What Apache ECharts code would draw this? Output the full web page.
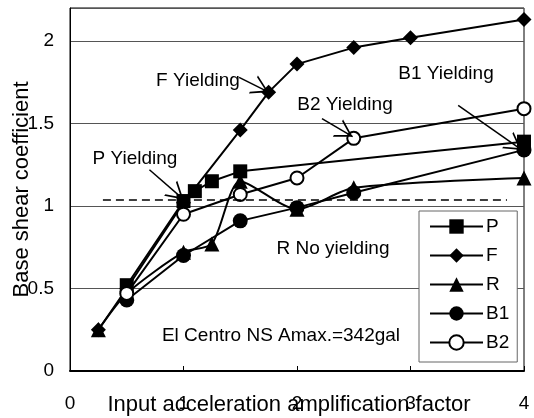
<!DOCTYPE html>
<html><head><meta charset="utf-8">
<script src="https://cdn.jsdelivr.net/npm/echarts@6/dist/echarts.min.js"></script>
<style>html,body{margin:0;padding:0;background:#fff}#c{width:534px;height:418px}</style>
</head><body><div id="c"></div>
<script>
// ---- data ----
const xTicks = [0, 1, 2, 3, 4];
const yTicks = [0, 0.5, 1, 1.5, 2];
const seriesNames = ['P', 'F', 'R', 'B1', 'B2'];
const pX  = [0.5, 1.0, 1.1, 1.25, 1.5, 4.0];
const pY  = [0.52, 1.03, 1.09, 1.15, 1.21, 1.39];
const fX  = [0.25, 0.5, 1.0, 1.5, 1.75, 2.0, 2.5, 3.0, 4.0];
const fY  = [0.25, 0.50, 1.02, 1.46, 1.69, 1.86, 1.96, 2.02, 2.13];
const rX  = [0.25, 0.5, 1.0, 1.25, 1.5, 2.0, 2.5, 4.0];
const rY  = [0.25, 0.47, 0.72, 0.77, 1.15, 0.98, 1.11, 1.17];
const b1X = [0.5, 1.0, 1.5, 2.0, 2.5, 4.0];
const b1Y = [0.43, 0.70, 0.91, 0.99, 1.08, 1.34];
const b2X = [0.5, 1.0, 1.5, 2.0, 2.5, 4.0];
const b2Y = [0.47, 0.95, 1.07, 1.17, 1.41, 1.59];
const refLevel = 1.036;           // dashed line
const refFrom = 0.29, refTo = 3.85;
// annotation arrows: [fromX, fromY, toX, toY]
const arrowF  = [1.49, 1.78, 1.75, 1.69];
const arrowP  = [0.70, 1.22, 1.00, 1.04];
const arrowB2 = [2.22, 1.53, 2.49, 1.42];
const arrowB1 = [3.42, 1.61, 3.98, 1.34];

const FONT = 'Liberation Sans, Arial, sans-serif';
const pairs = (xs, ys) => xs.map((x, i) => [x, ys[i]]);

const chart = echarts.init(document.getElementById('c'), null, {renderer: 'canvas'});
const baseLine = (name, xs, ys, symbol, size, extra) => Object.assign({
  name, type: 'line', data: pairs(xs, ys), symbol, symbolSize: size,
  lineStyle: {color: '#000', width: 2}, itemStyle: {color: '#000'},
  showAllSymbol: true, animation: false, z: 3
}, extra || {});

const arrowPath = 'path://M0,20 L10,0 L20,20 L18,20 L10,4 L2,20 Z';
const mkArrow = a => [{coord: [a[0], a[1]], symbol: 'none'}, {coord: [a[2], a[3]], symbol: arrowPath, symbolSize: [20, 17], symbolOffset: [0, 8.5]}];

chart.setOption({
  backgroundColor: '#fff',
  animation: false,
  grid: {left: 70, right: 10, top: 8, bottom: 47, containLabel: false, outerBoundsMode: 'none',
    show: true, borderColor: '#000', borderWidth: 1, backgroundColor: 'transparent'},
  xAxis: {
    type: 'value', min: xTicks[0], max: xTicks[xTicks.length - 1], interval: 1,
    name: 'Input acceleration amplification factor', nameLocation: 'middle', nameGap: 23,
    nameMoveOverlap: false,
    nameTextStyle: {fontFamily: FONT, fontSize: 22, color: '#000', padding: [0, 16, 0, 0]},
    axisLine: {lineStyle: {color: '#000', width: 2}},
    axisTick: {inside: true, length: 5, lineStyle: {color: '#000', width: 1}},
    axisLabel: {fontFamily: FONT, fontSize: 19, color: '#000', margin: 23},
    splitLine: {show: false}
  },
  yAxis: {
    type: 'value', min: yTicks[0], max: 2.2, interval: 0.5,
    name: 'Base shear coefficient', nameLocation: 'middle', nameGap: 37, nameRotate: 90,
    nameMoveOverlap: false,
    nameTextStyle: {fontFamily: FONT, fontSize: 22, color: '#000'},
    axisLine: {show: true, lineStyle: {color: '#000', width: 1}},
    axisTick: {show: false},
    axisLabel: {fontFamily: FONT, fontSize: 19, color: '#000', margin: 16, showMaxLabel: false,
      formatter: v => (yTicks.indexOf(v) >= 0 ? String(v) : '')},
    splitLine: {show: true, lineStyle: {color: '#555', width: 1}}
  },
  legend: {
    data: seriesNames, orient: 'vertical', left: 419, top: 211, width: 102,
    backgroundColor: '#fff', borderColor: '#666', borderWidth: 1,
    padding: [6, 8, 10, 10], itemWidth: 53, itemHeight: 18, itemGap: 10,
    textStyle: {fontFamily: FONT, fontSize: 19, color: '#000', padding: [0, 0, 0, -2]},
    selectedMode: false
  },
  series: [
    baseLine('P', pX, pY, 'rect', 14),
    baseLine('F', fX, fY, 'diamond', 15),
    baseLine('R', rX, rY, 'triangle', 15, {smooth: 0.25}),
    baseLine('B1', b1X, b1Y, 'circle', 15),
    baseLine('B2', b2X, b2Y, 'emptyCircle', 13, {itemStyle: {color: '#000', borderWidth: 2, borderColor: '#000'}}),
    {
      name: 'annot', type: 'line', data: [], silent: true, z: 4,
      markLine: {
        silent: true, animation: false, label: {show: false},
        lineStyle: {color: '#000', width: 1.5, type: 'solid'},
        data: [
          [{coord: [refFrom, refLevel], symbol: 'none', lineStyle: {type: [8, 5], width: 1.5}},
           {coord: [refTo, refLevel], symbol: 'none'}],
          mkArrow(arrowF), mkArrow(arrowP), mkArrow(arrowB2), mkArrow(arrowB1)
        ]
      }
    }
  ],
  graphic: [
    {type: 'text', x: 198, y: 81, style: {text: 'F Yielding', font: '19px ' + FONT, fill: '#000', align: 'center', verticalAlign: 'middle'}, z: 10},
    {type: 'text', x: 135, y: 159, style: {text: 'P Yielding', font: '19px ' + FONT, fill: '#000', align: 'center', verticalAlign: 'middle'}, z: 10},
    {type: 'text', x: 345, y: 105, style: {text: 'B2 Yielding', font: '19px ' + FONT, fill: '#000', align: 'center', verticalAlign: 'middle'}, z: 10},
    {type: 'text', x: 446, y: 74, style: {text: 'B1 Yielding', font: '19px ' + FONT, fill: '#000', align: 'center', verticalAlign: 'middle'}, z: 10},
    {type: 'text', x: 333, y: 249, style: {text: 'R No yielding', font: '19px ' + FONT, fill: '#000', align: 'center', verticalAlign: 'middle'}, z: 10},
    {type: 'text', x: 281, y: 336, style: {text: 'El Centro NS Amax.=342gal', font: '19px ' + FONT, fill: '#000', align: 'center', verticalAlign: 'middle'}, z: 10}
  ]
});
</script></body></html>
